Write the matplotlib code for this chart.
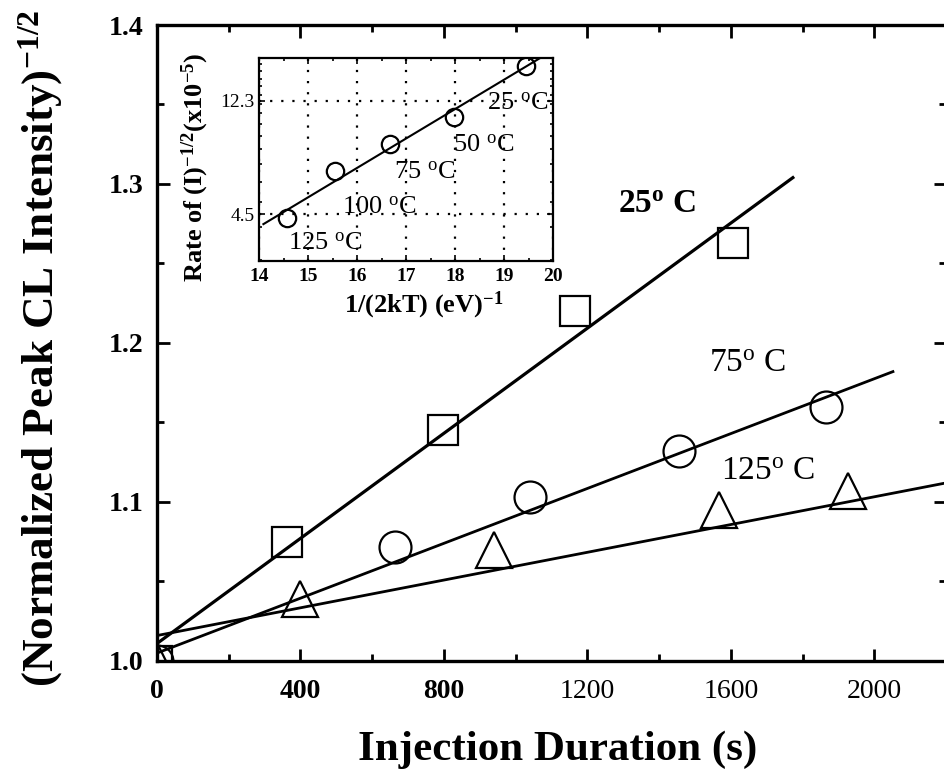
import matplotlib
matplotlib.use('Agg')
import matplotlib.pyplot as plt
from matplotlib.ticker import MultipleLocator, FixedLocator, FixedFormatter, NullFormatter

plt.rcParams['font.family'] = 'Liberation Serif'
plt.rcParams['mathtext.fontset'] = 'custom'
plt.rcParams['mathtext.rm'] = 'Liberation Serif'
plt.rcParams['mathtext.bf'] = 'Liberation Serif:bold'
plt.rcParams['mathtext.it'] = 'Liberation Serif:italic'

# --- main panel data (injection duration in s vs normalized intensity^-1/2)
t_25 = [0, 362, 797, 1165, 1606]
v_25 = [1.0, 1.075, 1.145, 1.220, 1.263]
t_75 = [0, 663, 1040, 1455, 1865]
v_75 = [1.0, 1.072, 1.103, 1.132, 1.160]
t_125 = [0, 399, 939, 1567, 1926]
v_125 = [1.0, 1.039, 1.070, 1.095, 1.107]

# linear fits (end points)
fit_t_25 = [0, 1773]
fit_v_25 = [1.011, 1.304]
fit_t_75 = [0, 2052]
fit_v_75 = [1.005, 1.182]
fit_t_125 = [0, 2200]
fit_v_125 = [1.016, 1.112]

# --- inset data (Arrhenius plot)
inv_2kT = [14.58, 15.55, 16.67, 17.97, 19.45]
rate = [4.35, 6.60, 8.36, 10.64, 16.7]
fit_inv = [14.09, 19.73]
fit_rate = [4.12, 17.96]
inset_temps = ['125', '100', '75', '50', '25']
inset_lbl_x = [15.35, 16.45, 17.37, 18.59, 19.27]
inset_lbl_y = [3.48, 4.79, 6.53, 8.29, 12.0]

x_ticks = [0, 400, 800, 1200, 1600, 2000]
y_ticks = [1.0, 1.1, 1.2, 1.3, 1.4]

fig = plt.figure(figsize=(9.44, 7.76), dpi=100, facecolor='white')
ax = fig.add_axes([157 / 944, 1 - 661 / 776, 789 / 944, 636 / 776])

mk = dict(mfc='none', mec='black', mew=1.6, ls='none')
ax.plot(t_25, v_25, marker='s', ms=21.5, **mk)
ax.plot(t_75, v_75, marker='o', ms=23, **mk)
ax.plot(t_125, v_125, marker='^', ms=26, **mk)
ax.plot(fit_t_25, fit_v_25, color='black', lw=2.3)
ax.plot(fit_t_75, fit_v_75, color='black', lw=2.0)
ax.plot(fit_t_125, fit_v_125, color='black', lw=2.0)

ax.text(1394, 1.287, r'25$^\mathbf{o}$ C', fontsize=24, fontweight='bold',
        ha='center', va='center')
ax.text(1647, 1.187, r'75$^\mathrm{o}$ C', fontsize=24, ha='center', va='center')
ax.text(1703, 1.119, r'125$^\mathrm{o}$ C', fontsize=24, ha='center', va='center')

ax.set_xlim(0, 2200)
ax.set_ylim(1.0, 1.4)
ax.set_xticks(x_ticks, labels=[str(v) for v in x_ticks])
for lbl in ax.get_xticklabels():
    lbl.set_fontweight('bold' if int(lbl.get_text()) < 1000 else 'normal')
ax.set_yticks(y_ticks, labels=['%.1f' % v for v in y_ticks])
for lbl in ax.get_yticklabels():
    lbl.set_fontweight('bold')
ax.xaxis.set_minor_locator(MultipleLocator(200))
ax.yaxis.set_minor_locator(MultipleLocator(0.05))
ax.tick_params(which='both', direction='in', top=True, right=True, width=2)
ax.tick_params(which='major', length=9, labelsize=20)
ax.tick_params(axis='x', which='major', pad=13)
ax.tick_params(axis='y', which='major', pad=10)
ax.tick_params(which='minor', length=5)
for s in ax.spines.values():
    s.set_linewidth(2.4)

fig.text(558 / 944, 1 - 760 / 776, 'Injection Duration (s)', fontsize=31,
         fontweight='bold', ha='center', va='baseline')
fig.text(41 / 944, 1 - 348 / 776, r'(Normalized Peak CL Intensity)$^\mathbf{-1/2}$',
         fontsize=32.5, fontweight='bold', rotation=90, ha='center', va='center')

# --- inset
ins = fig.add_axes([259 / 944, 1 - 261 / 776, 294 / 944, 203 / 776])
ins.set_yscale('log')
ins.plot(inv_2kT, rate, marker='o', ms=12.5, mfc='none', mec='black', mew=1.6, ls='none')
ins.plot(fit_inv, fit_rate, color='black', lw=1.5)
for name, lx, ly in zip(inset_temps, inset_lbl_x, inset_lbl_y):
    ins.text(lx, ly, name + r' $^\mathrm{o}$C', fontsize=19, ha='center', va='center')

ins.set_xlim(14, 20)
ins.set_ylim(2.97, 18.0)
ins.set_xticks(range(14, 21), labels=[str(v) for v in range(14, 21)])
for lbl in ins.get_xticklabels():
    lbl.set_fontweight('bold')
ins.xaxis.set_minor_locator(MultipleLocator(0.5))
ins.yaxis.set_major_locator(FixedLocator([4.5, 12.3]))
ins.yaxis.set_major_formatter(FixedFormatter(['4.5', '12.3']))
ins.yaxis.set_minor_locator(FixedLocator(range(3, 18)))
ins.yaxis.set_minor_formatter(NullFormatter())
ins.grid(True, which='major', color='black', ls=(0, (1, 4)), lw=1.6)
ins.tick_params(which='both', direction='in', top=True, right=True, width=1.2)
ins.tick_params(which='major', length=4)
ins.tick_params(which='minor', length=2.5)
ins.tick_params(axis='x', labelsize=14, pad=5)
ins.tick_params(axis='y', labelsize=14, pad=3)
for s in ins.spines.values():
    s.set_linewidth(1.6)
ins.set_xlabel(r'1/(2kT) (eV)$^\mathbf{-1}$', fontsize=19, fontweight='bold')
ins.xaxis.set_label_coords(0.56, -0.14, transform=ins.transAxes)
ins.xaxis.label.set_va('top')
ins.set_ylabel(r'Rate of (I)$^\mathbf{-1/2}$(x10$^\mathbf{-5}$)', fontsize=19,
               fontweight='bold')
ins.yaxis.set_label_coords(-0.218, 0.463)
ins.yaxis.label.set_va('center')

fig.savefig('out.png', dpi=100)
